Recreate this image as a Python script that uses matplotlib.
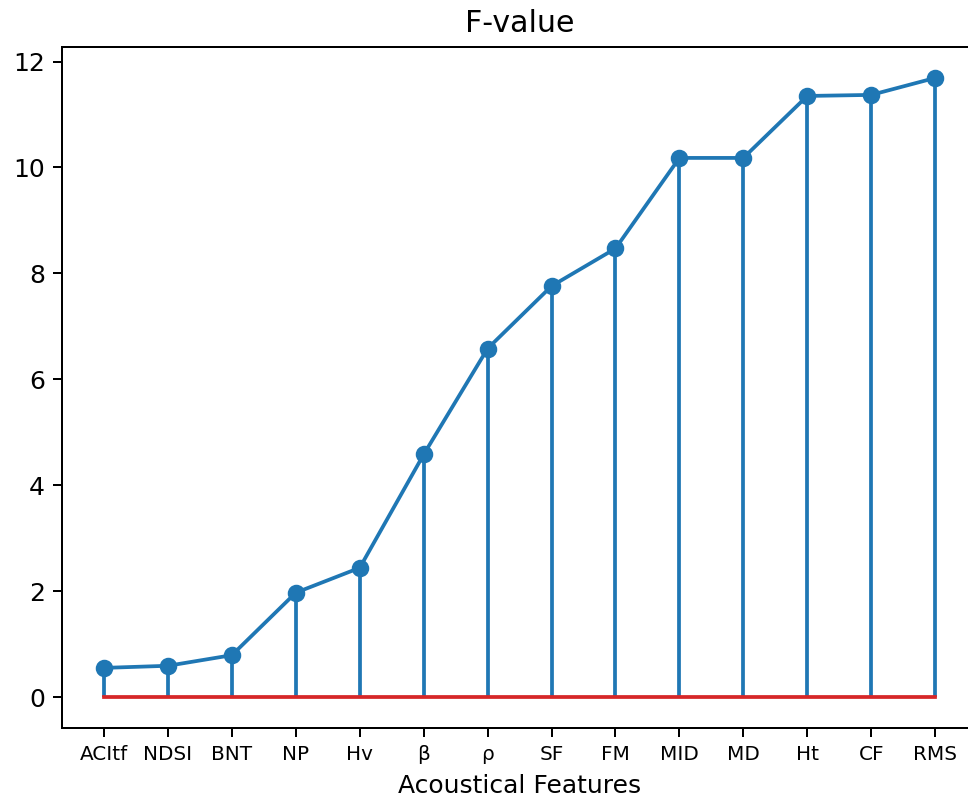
import numpy as np
from matplotlib import pyplot as plt

features = ["ACItf", "NDSI", "BNT", "NP", "Hv", "β", "ρ", "SF", "FM",
            "MID", "MD", "Ht", "CF", "RMS"]
f_values = [0.55, 0.59, 0.79, 1.97, 2.44, 4.58, 6.58, 7.76, 8.47,
            10.18, 10.18, 11.35, 11.37, 11.69]

x = np.arange(len(features))

fig = plt.figure(figsize=(968 / 180, 802 / 180), dpi=180)
# right edge of the axes falls just outside the picture, like the original
ax = fig.add_axes([0.0645, 0.0923, 0.9445, 0.8491])

ax.stem(x, f_values, linefmt="C0-", markerfmt="C0o", basefmt="C3-")
ax.plot(x, f_values, "C0-", lw=1.5)

ax.set_xticks(x)
ax.set_xticklabels(features, fontsize=8)
ax.tick_params(axis="y", labelsize=10)
ax.spines["right"].set_visible(False)
ax.set_title("F-value", fontsize=12)
ax.set_xlabel("Acoustical Features", fontsize=10)

plt.savefig("out.png", dpi=180)
